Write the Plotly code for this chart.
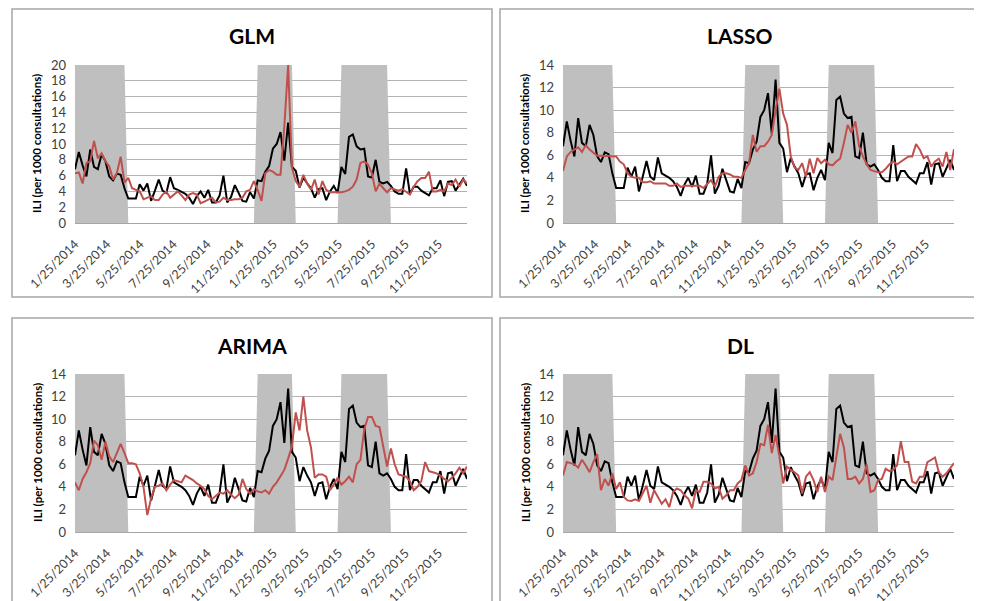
import datetime as dt
import plotly.graph_objects as go

# ---------------- data ----------------
start_date = dt.date(2014, 1, 25)
n_weeks = 104
week_dates = [start_date + dt.timedelta(days=7 * k) for k in range(n_weeks)]

# influenza season periods (shaded)
season_starts = ["2014-01-25", "2014-12-27", "2015-05-30"]
season_ends = ["2014-04-26", "2015-02-28", "2015-08-22"]

tick_dates = ["2014-01-25", "2014-03-25", "2014-05-25", "2014-07-25", "2014-09-25",
              "2014-11-25", "2015-01-25", "2015-03-25", "2015-05-25", "2015-07-25",
              "2015-09-25", "2015-11-25"]
tick_labels = ["1/25/2014", "3/25/2014", "5/25/2014", "7/25/2014", "9/25/2014",
               "11/25/2014", "1/25/2015", "3/25/2015", "5/25/2015", "7/25/2015",
               "9/25/2015", "11/25/2015"]

observed = [6.8, 9.0, 7.3, 5.9, 9.3, 7.1, 6.8, 8.7, 7.8, 5.9,
            5.4, 6.25, 6.1, 4.4, 3.1, 3.1, 3.1, 4.9, 4.1, 5.0,
            2.8, 4.1, 5.5, 4.1, 3.8, 5.8, 4.4, 4.2, 4.0, 3.7,
            3.2, 2.4, 3.4, 4.0, 3.2, 4.2, 2.6, 2.6, 3.5, 6.0,
            2.6, 3.3, 4.8, 3.8, 2.8, 2.7, 3.9, 3.1, 5.4, 5.3,
            6.5, 7.2, 9.4, 10.0, 11.5, 7.9, 12.7, 7.1, 6.6, 4.5,
            5.75, 5.0, 4.4, 3.2, 4.3, 4.4, 2.9, 4.0, 4.7, 3.8,
            7.1, 6.2, 10.9, 11.2, 9.7, 9.3, 9.4, 5.9, 5.75, 8.0,
            5.2, 5.0, 5.2, 4.7, 4.0, 3.7, 3.7, 6.9, 3.7, 4.6,
            4.6, 4.1, 3.8, 3.5, 4.4, 4.4, 5.4, 3.4, 5.2, 5.3,
            4.1, 4.9, 5.6, 4.7]

glm = [6.3, 6.4, 5.0, 7.6, 7.8, 10.4, 8.2, 8.8, 7.8, 7.2,
       5.5, 6.3, 8.4, 5.1, 5.7, 4.4, 4.2, 4.0, 3.0, 3.2,
       3.4, 2.9, 2.9, 3.6, 4.0, 3.2, 3.6, 4.0, 3.5, 2.9,
       3.6, 3.8, 3.6, 2.5, 2.7, 2.9, 3.2, 2.6, 2.7, 3.2,
       2.9, 2.9, 3.0, 3.0, 3.2, 4.0, 4.2, 5.3, 4.2, 2.8,
       6.3, 6.7, 6.5, 6.1, 6.1, 12.2, 20.0, 7.0, 5.3, 4.6,
       6.1, 5.0, 4.2, 5.5, 3.6, 5.3, 4.2, 3.9, 3.9, 3.9,
       3.9, 4.0, 4.2, 4.6, 5.5, 7.6, 7.8, 7.4, 6.3, 4.0,
       5.0, 4.4, 3.9, 4.4, 4.2, 4.1, 4.3, 4.0, 3.6, 4.6,
       5.3, 5.7, 5.7, 6.5, 4.0, 4.0, 4.2, 4.0, 5.0, 4.8,
       5.5, 4.6, 5.5, 5.0]

lasso = [4.6, 5.9, 6.3, 6.5, 6.7, 6.3, 6.9, 6.5, 6.2, 5.95,
         5.95, 5.95, 5.9, 5.9, 5.9, 5.45, 5.2, 4.4, 4.1, 4.0,
         4.0, 3.6, 3.6, 3.7, 3.5, 3.5, 3.5, 3.5, 3.3, 3.3,
         3.5, 3.2, 3.3, 3.3, 3.3, 3.3, 3.3, 3.1, 3.5, 3.8,
         3.2, 4.1, 4.4, 4.4, 4.3, 4.1, 4.1, 4.0, 4.7, 5.3,
         7.8, 6.3, 6.8, 6.8, 7.2, 7.8, 10.0, 11.9, 9.7, 8.7,
         5.9, 4.9, 4.7, 5.3, 4.1, 5.7, 4.4, 5.75, 5.3, 5.6,
         5.2, 5.1, 5.45, 5.7, 7.1, 8.7, 8.0, 9.0, 6.8, 5.9,
         5.2, 4.7, 4.6, 4.5, 4.5, 4.8, 5.2, 5.45, 5.2, 5.45,
         5.7, 5.9, 5.9, 7.0, 6.5, 5.75, 5.9, 5.0, 5.45, 5.7,
         5.0, 6.3, 4.7, 6.55]

arima = [4.4, 3.7, 4.7, 5.3, 6.1, 8.1, 7.7, 6.4, 8.0, 6.7,
         6.2, 7.0, 7.8, 7.0, 6.1, 6.1, 6.0, 5.2, 4.0, 1.5,
         3.0, 4.0, 4.1, 4.3, 3.7, 4.2, 4.6, 4.5, 4.4, 5.0,
         4.8, 4.6, 4.3, 4.1, 3.8, 3.2, 2.9, 3.2, 3.5, 3.4,
         3.7, 3.3, 3.0, 3.3, 4.7, 3.8, 3.4, 3.8, 3.6, 3.5,
         3.7, 3.4, 4.0, 4.4, 5.0, 5.5, 6.5, 7.6, 10.6, 9.0,
         12.0, 9.0, 7.5, 4.8, 5.1, 5.1, 4.9, 3.7, 4.2, 4.8,
         4.2, 4.5, 4.9, 4.4, 6.0, 6.4, 9.1, 10.2, 10.2, 9.4,
         9.3, 7.4, 5.8, 7.4, 6.0, 5.1, 5.0, 4.9, 4.5, 3.7,
         4.0, 4.5, 6.2, 5.4, 5.3, 5.2, 5.0, 4.7, 4.5, 4.8,
         5.2, 5.7, 5.2, 5.8]

dl = [5.0, 6.2, 6.1, 6.0, 5.7, 6.4, 5.9, 5.3, 6.2, 6.9,
      3.7, 4.7, 4.1, 5.2, 3.8, 4.4, 3.1, 2.8, 2.75, 2.9,
      2.75, 3.4, 4.1, 2.6, 3.7, 3.1, 2.5, 2.9, 2.2, 3.55,
      3.85, 3.7, 3.25, 2.95, 2.1, 3.7, 3.55, 4.45, 4.45, 4.3,
      3.85, 4.0, 2.95, 3.25, 3.7, 3.7, 4.3, 4.6, 5.9, 5.0,
      5.2, 6.2, 7.8, 7.7, 9.5, 7.0, 8.6, 6.7, 4.3, 5.8,
      5.5, 5.3, 5.0, 3.4, 4.9, 5.3, 4.6, 3.55, 4.9, 3.55,
      4.9, 4.6, 6.7, 8.7, 7.5, 4.7, 4.7, 4.9, 4.3, 4.7,
      6.0, 3.55, 3.7, 4.6, 4.7, 5.6, 5.4, 5.5, 5.9, 8.05,
      6.2, 6.2, 4.45, 4.3, 4.9, 4.9, 6.2, 6.4, 6.6, 5.3,
      4.9, 5.2, 5.6, 6.1]

model_names = ["GLM", "LASSO", "ARIMA", "DL"]
model_series = [glm, lasso, arima, dl]
y_max = [20, 14, 14, 14]

# ---------------- layout geometry (page pixels) ----------------
PAGE_OFF = 8          # default body margin of the html page
W, H = 982 - PAGE_OFF, 601 - PAGE_OFF
plot_boxes = [(75, 467, 65, 223), (563, 954, 65, 223),
              (75, 467, 374, 532), (563, 954, 374, 532)]
frame_boxes = [(12, 492, 9, 297), (500, 979, 9, 297),
               (12, 492, 318, 640), (500, 979, 318, 640)]
title_pos = [(252, 36), (740, 36), (252, 345), (740, 345)]

FONT = "Lato, 'Open Sans', Arial, sans-serif"
GRAY_BAND = "#bfbfbf"
RED = "#c0504d"


def px(x):
    return (x - PAGE_OFF) / W


def py(y):
    return 1 - (y - PAGE_OFF) / H


def in_season(d):
    for s, e in zip(season_starts, season_ends):
        if dt.date.fromisoformat(s) <= d <= dt.date.fromisoformat(e):
            return True
    return False


season_flag = [1 if in_season(d) else 0 for d in week_dates]

fig = go.Figure()
shapes = []
annotations = []

for i, (name, series, ym) in enumerate(zip(model_names, model_series, y_max)):
    k = "" if i == 0 else str(i + 1)
    xa, ya = "x" + k, "y" + k
    x0, x1, y0, y1 = plot_boxes[i]

    fig.add_trace(go.Scatter(
        x=week_dates, y=[f * ym for f in season_flag], mode="lines",
        line=dict(width=0, color=GRAY_BAND), fill="tozeroy", fillcolor=GRAY_BAND,
        xaxis=xa, yaxis=ya, showlegend=False, hoverinfo="skip"))
    fig.add_trace(go.Scatter(
        x=week_dates, y=observed, mode="lines", line=dict(color="#000000", width=2),
        xaxis=xa, yaxis=ya, showlegend=False, name="Observed"))
    fig.add_trace(go.Scatter(
        x=week_dates, y=series, mode="lines", line=dict(color=RED, width=2),
        xaxis=xa, yaxis=ya, showlegend=False, name=name))

    fig.layout["xaxis" + k] = dict(
        domain=[px(x0), px(x1)], anchor=ya, type="date", automargin=False,
        range=[week_dates[0].isoformat(), week_dates[-1].isoformat()],
        tickmode="array", tickvals=tick_dates, ticktext=tick_labels,
        tickangle=-45, showgrid=False, zeroline=False,
        showline=True, linecolor="#a6a6a6", linewidth=1, ticks="",
        ticklabelstandoff=8,
        tickfont=dict(family=FONT, size=12.5, color="#404040"))
    fig.layout["yaxis" + k] = dict(
        domain=[py(y1), py(y0)], anchor=xa, range=[0, ym], dtick=2,
        automargin=False,
        showgrid=True, gridcolor="#b3b3b3", gridwidth=1, zeroline=False,
        showline=False, ticks="", ticklabelstandoff=8,
        tickfont=dict(family=FONT, size=13, color="#404040"))

    fx0, fx1, fy0, fy1 = frame_boxes[i]
    shapes.append(dict(type="rect", xref="paper", yref="paper",
                       x0=px(fx0), x1=px(fx1), y0=py(fy1), y1=py(fy0),
                       line=dict(color="#a6a6a6", width=1.5), layer="below"))

    tx, ty = title_pos[i]
    annotations.append(dict(text="<b>%s</b>" % name, x=px(tx), y=py(ty),
                            xref="paper", yref="paper", showarrow=False,
                            xanchor="center", yanchor="middle",
                            font=dict(family=FONT, size=21, color="#000000")))
    annotations.append(dict(text="<b>ILI (per 1000 consultations)</b>",
                            x=px(x0 - 38), y=py((y0 + y1) / 2),
                            xref="paper", yref="paper", showarrow=False,
                            textangle=-90, xanchor="center", yanchor="middle",
                            font=dict(family=FONT, size=11.5, color="#000000")))

fig.update_layout(width=W, height=H, margin=dict(l=0, r=0, t=0, b=0, pad=0),
                  autosize=False,
                  paper_bgcolor="white", plot_bgcolor="white",
                  shapes=shapes, annotations=annotations, showlegend=False)

fig.write_html("out.html")
